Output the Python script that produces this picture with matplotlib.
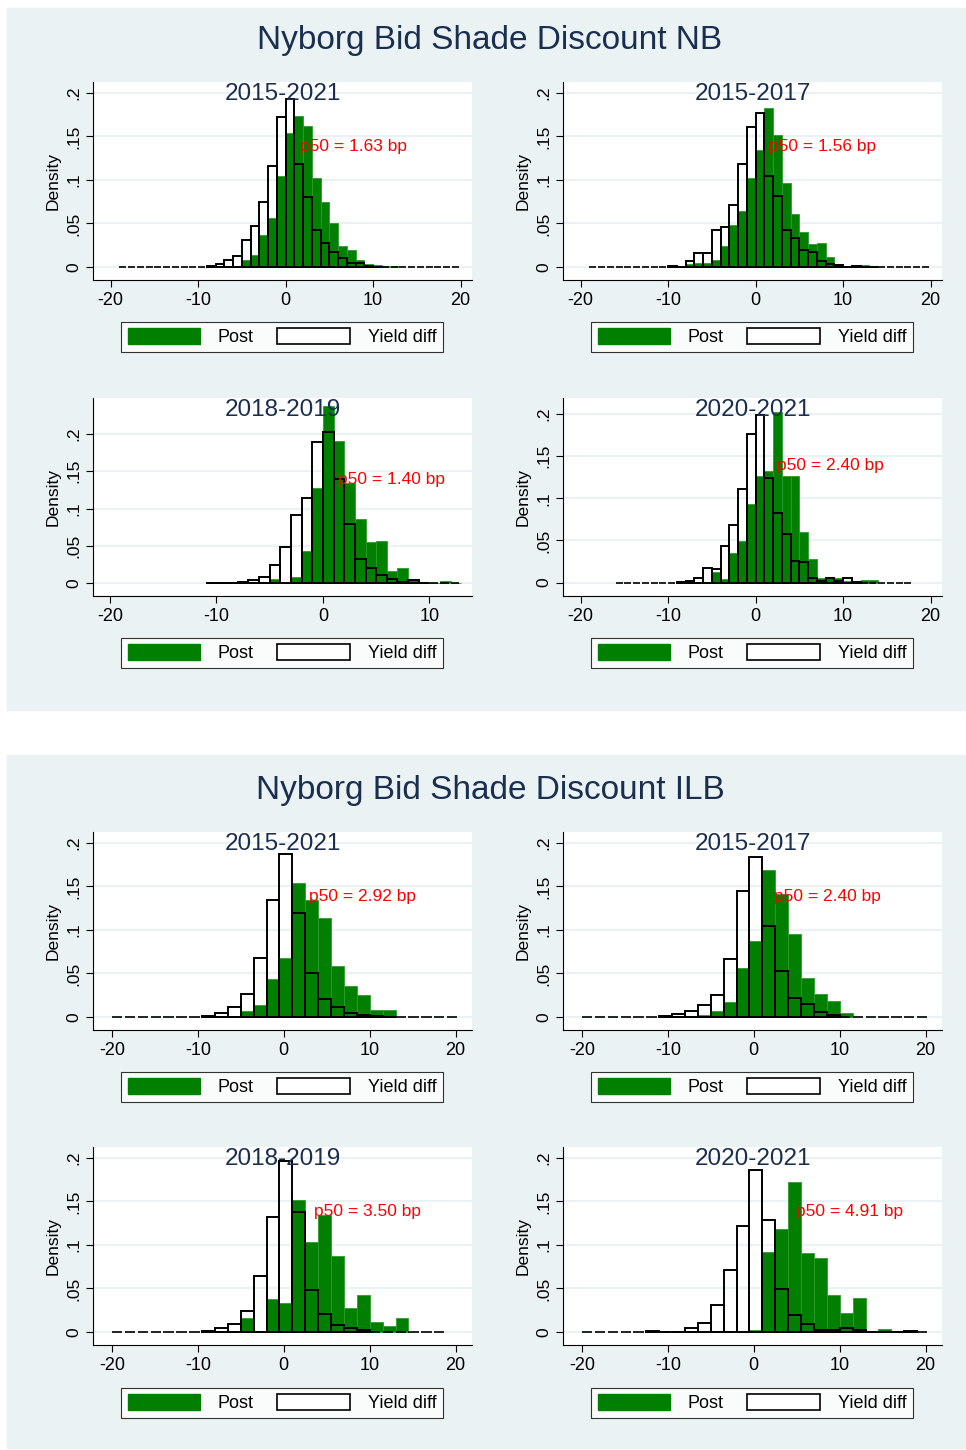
import matplotlib.pyplot as plt
from matplotlib.patches import Patch, Rectangle

GREEN = "#007F00"
NAVY = "#1A2E4F"
PANEL_BG = "#EAF2F3"

# ---- NB panels (bin width 1) ----
nb_width = 1.0
nb1521_range = (-19, 20)
nb1521_yield_start = -9
nb1521_yield = [0.001, 0.003, 0.008, 0.013, 0.031, 0.047, 0.075, 0.116, 0.172, 0.193,
                0.118, 0.080, 0.042, 0.028, 0.017, 0.010, 0.004, 0.004, 0.001, 0.0005]
nb1521_post_start = -5
nb1521_post = [0.008, 0.014, 0.037, 0.056, 0.105, 0.154, 0.174, 0.162, 0.102, 0.075,
               0.050, 0.024, 0.019, 0.008, 0.003, 0.002, 0.001, 0.001]

nb1517_range = (-19, 20)
nb1517_yield_start = -10
nb1517_yield = [0.001, 0.0005, 0.007, 0.016, 0.016, 0.042, 0.046, 0.071, 0.118, 0.161,
                0.177, 0.104, 0.082, 0.043, 0.033, 0.020, 0.017, 0.007, 0.003, 0.002,
                0.0005, 0.001, 0.0005, 0.0005]
nb1517_post_start = -8
nb1517_post = [0.003, 0.004, 0.004, 0.008, 0.024, 0.048, 0.064, 0.102, 0.134, 0.183,
               0.152, 0.097, 0.061, 0.040, 0.026, 0.028, 0.012, 0.003, 0.001, 0.001,
               0.002, 0.001]

nb1819_range = (-11, 13)
nb1819_yield_start = -11
nb1819_yield = [0.0005, 0.0005, 0.001, 0.002, 0.004, 0.008, 0.025, 0.049, 0.092, 0.114,
                0.189, 0.202, 0.140, 0.080, 0.032, 0.020, 0.011, 0.006, 0.002, 0.004,
                0.0005]
nb1819_post_start = -5
nb1819_post = [0.006, 0.002, 0.009, 0.043, 0.128, 0.237, 0.190, 0.134, 0.086, 0.055,
               0.057, 0.017, 0.020, 0.005, 0.0, 0.0005, 0.003, 0.001]

nb2021_range = (-16, 18)
nb2021_yield_start = -9
nb2021_yield = [0.001, 0.002, 0.005, 0.017, 0.016, 0.043, 0.068, 0.111, 0.176, 0.199,
                0.124, 0.083, 0.058, 0.026, 0.024, 0.005, 0.002, 0.005, 0.002, 0.005,
                0.0005]
nb2021_post_start = -5
nb2021_post = [0.012, 0.004, 0.035, 0.049, 0.093, 0.126, 0.132, 0.202, 0.127, 0.127,
               0.060, 0.028, 0.005, 0.005, 0.005, 0.002, 0.001, 0.003, 0.003]

# ---- ILB panels (bin width 1.5) ----
ilb_width = 1.5
ilb1521_range = (-20, 20.5)
ilb1521_yield_start = -9.5
ilb1521_yield = [0.001, 0.004, 0.012, 0.026, 0.068, 0.135, 0.187, 0.119, 0.051, 0.021,
                 0.011, 0.004, 0.002, 0.001, 0.0005]
ilb1521_post_start = -5
ilb1521_post = [0.007, 0.014, 0.044, 0.068, 0.154, 0.134, 0.114, 0.058, 0.036, 0.025,
                0.008, 0.008]

ilb1517_range = (-20, 20.5)
ilb1517_yield_start = -11
ilb1517_yield = [0.001, 0.003, 0.007, 0.014, 0.025, 0.067, 0.145, 0.184, 0.105, 0.053,
                 0.022, 0.015, 0.006, 0.002]
ilb1517_post_start = -6.5
ilb1517_post = [0.002, 0.007, 0.017, 0.056, 0.087, 0.169, 0.141, 0.095, 0.045, 0.026,
                0.018, 0.004]

ilb1819_range = (-20, 19)
ilb1819_yield_start = -9.5
ilb1819_yield = [0.001, 0.004, 0.009, 0.024, 0.064, 0.132, 0.197, 0.138, 0.048, 0.021,
                 0.008, 0.004, 0.002]
ilb1819_post_start = -5
ilb1819_post = [0.016, 0.0, 0.038, 0.033, 0.152, 0.103, 0.135, 0.087, 0.027, 0.043,
                0.011, 0.007, 0.016]

ilb2021_range = (-20, 20.5)
ilb2021_yield_start = -12.5
ilb2021_yield = [0.001, 0.0, 0.0, 0.004, 0.010, 0.031, 0.071, 0.122, 0.186, 0.129,
                 0.049, 0.019, 0.009, 0.002, 0.002, 0.004, 0.002, 0.0, 0.0, 0.0, 0.001]
ilb2021_post_start = -0.5
ilb2021_post = [0.002, 0.092, 0.118, 0.172, 0.091, 0.085, 0.042, 0.022, 0.039, 0.0,
                0.003]

titles = ["2015-2021", "2015-2017", "2018-2019", "2020-2021"]
nb_p50 = [1.63, 1.56, 1.40, 2.40]
ilb_p50 = [2.92, 2.40, 3.50, 4.91]

W, H = 966, 1450
fig = plt.figure(figsize=(W / 100, H / 100), dpi=100)
fig.patch.set_facecolor("white")
plt.rcParams["font.family"] = ["Liberation Sans", "DejaVu Sans"]


def fx(px):
    return px / W


def fy(py):
    return 1 - py / H


def panel(ax, width, rng, ys, yv, ps, pv, title, p50, xlim, ylim, xticks):
    ax.set_facecolor("white")
    for t in [0, 0.05, 0.1, 0.15, 0.2]:
        ax.axhline(t, color=PANEL_BG, lw=1.5, zorder=0)
    plefts = [ps + i * width for i in range(len(pv))]
    ax.bar(plefts, pv, width=width, align="edge", color=GREEN, edgecolor="#2E9A2E",
           lw=0.6, zorder=2)
    n_all = int(round((rng[1] - rng[0]) / width))
    alls = [rng[0] + i * width for i in range(n_all)]
    ax.bar(alls, [0] * n_all, width=width * 0.8, align="edge", fill=False,
           edgecolor="black", lw=1.2, zorder=3)
    ylefts = [ys + i * width for i in range(len(yv))]
    ax.bar(ylefts, yv, width=width, align="edge", fill=False, edgecolor="black",
           lw=1.4, zorder=3)
    ax.set_xlim(*xlim)
    ax.set_ylim(*ylim)
    ax.set_xticks(xticks)
    ax.set_xticklabels([str(t) for t in xticks], fontsize=13)
    ax.set_yticks([0, 0.05, 0.1, 0.15, 0.2])
    ax.set_yticklabels(["0", ".05", ".1", ".15", ".2"], rotation=90, va="center",
                       fontsize=12.5)
    ax.set_ylabel("Density", fontsize=12.5)
    ax.tick_params(length=5, color="black")
    for s in ["top", "right"]:
        ax.spines[s].set_visible(False)
    ax.text(0.5, 0.995, title, transform=ax.transAxes, ha="center", va="top",
            fontsize=17.5, color=NAVY, zorder=5)
    ax.text(p50, 0.139, f"p50 = {p50:.2f} bp", color="red", fontsize=12.5,
            ha="left", va="center", zorder=5)


def legend(cx_px, cy_px):
    handles = [Patch(facecolor=GREEN, edgecolor=GREEN),
               Patch(facecolor="white", edgecolor="black", lw=1.2)]
    leg = fig.legend(handles, ["Post", "Yield diff"], loc="center",
                     bbox_to_anchor=(fx(cx_px), fy(cy_px)), ncol=2, fontsize=13,
                     frameon=True, fancybox=False, edgecolor="black",
                     handlelength=4.0, handleheight=1.0, columnspacing=1.3,
                     borderpad=0.35, handletextpad=1.0)
    leg.get_frame().set_linewidth(0.8)


# background panels
fig.add_artist(Rectangle((fx(7), fy(710)), fx(958), 702 / H, color=PANEL_BG,
                         transform=fig.transFigure, zorder=0))
fig.add_artist(Rectangle((fx(7), fy(1448)), fx(958), 693 / H, color=PANEL_BG,
                         transform=fig.transFigure, zorder=0))
fig.text(fx(490), fy(41), "Nyborg Bid Shade Discount NB", ha="center", va="center",
         fontsize=24, color=NAVY)
fig.text(fx(490), fy(791), "Nyborg Bid Shade Discount ILB", ha="center", va="center",
         fontsize=24, color=NAVY)

col_x = [93, 563]
row_y = [(82, 280), (398, 596), (832, 1030), (1147, 1345)]


def make_ax(col, row):
    x0 = col_x[col]
    top, bot = row_y[row]
    return fig.add_axes([fx(x0), fy(bot), 379 / W, (bot - top) / H])


std_x = (-22, 21.3)
ticks20 = [-20, -10, 0, 10, 20]

nb_sets = [
    (0, 0, nb1521_range, nb1521_yield_start, nb1521_yield, nb1521_post_start, nb1521_post,
     std_x, (-0.015, 0.2126), ticks20),
    (1, 0, nb1517_range, nb1517_yield_start, nb1517_yield, nb1517_post_start, nb1517_post,
     std_x, (-0.015, 0.2126), ticks20),
    (0, 1, nb1819_range, nb1819_yield_start, nb1819_yield, nb1819_post_start, nb1819_post,
     (-21.6, 14.0), (-0.017, 0.248), [-20, -10, 0, 10]),
    (1, 1, nb2021_range, nb2021_yield_start, nb2021_yield, nb2021_post_start, nb2021_post,
     std_x, (-0.016, 0.219), ticks20),
]
for i, (c, r, rng, ys, yv, ps, pv, xl, yl, xt) in enumerate(nb_sets):
    panel(make_ax(c, r), nb_width, rng, ys, yv, ps, pv, titles[i], nb_p50[i], xl, yl, xt)

ilb_x = (-22.2, 21.9)
ilb_sets = [
    (0, 2, ilb1521_range, ilb1521_yield_start, ilb1521_yield, ilb1521_post_start, ilb1521_post),
    (1, 2, ilb1517_range, ilb1517_yield_start, ilb1517_yield, ilb1517_post_start, ilb1517_post),
    (0, 3, ilb1819_range, ilb1819_yield_start, ilb1819_yield, ilb1819_post_start, ilb1819_post),
    (1, 3, ilb2021_range, ilb2021_yield_start, ilb2021_yield, ilb2021_post_start, ilb2021_post),
]
for i, (c, r, rng, ys, yv, ps, pv) in enumerate(ilb_sets):
    panel(make_ax(c, r), ilb_width, rng, ys, yv, ps, pv, titles[i], ilb_p50[i], ilb_x,
          (-0.015, 0.2126), ticks20)

for cy in [337, 653, 1087, 1403]:
    for cx in [282, 752]:
        legend(cx, cy)

fig.savefig("out.png", dpi=100)
